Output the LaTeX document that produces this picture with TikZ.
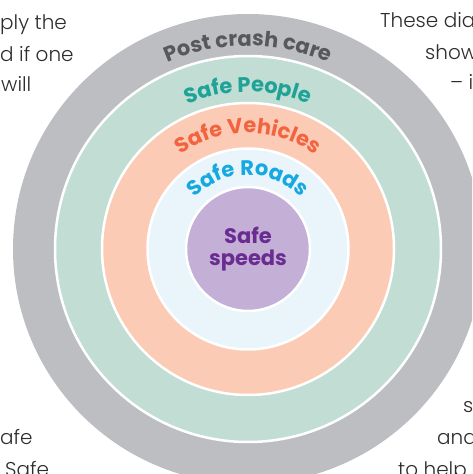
\documentclass[tikz,border=0pt]{standalone}
\usepackage{fontspec}
\newfontfamily\ringfont{Poppins Bold}
\newfontfamily\bodyfont{Poppins Light}
\usetikzlibrary{decorations.text}

\definecolor{ringgrey}{HTML}{BDBEC1}
\definecolor{ringgreen}{HTML}{C2DDD4}
\definecolor{ringpeach}{HTML}{FCCBB5}
\definecolor{ringblue}{HTML}{E9F5FB}
\definecolor{ringpurple}{HTML}{C4AFD6}
\definecolor{postgrey}{HTML}{58585A}
\definecolor{peopleteal}{HTML}{1FA397}
\definecolor{vehiclered}{HTML}{F26440}
\definecolor{roadsblue}{HTML}{16A9E1}
\definecolor{speedpurple}{HTML}{6B2C91}
\definecolor{bodygrey}{HTML}{2E2C2D}

\tikzset{
  ring/.style={draw=white, line width=2.5pt},
  ringlabel/.style 2 args={decorate, decoration={text along path, text align=center,
      text={|\ringfont\fontsize{21pt}{25pt}\selectfont\color{#1}|#2}}},
  bodytext/.style={font=\bodyfont\fontsize{20pt}{24pt}\selectfont, text=bodygrey, inner sep=0pt},
  centrelabel/.style={font=\ringfont\fontsize{21pt}{25pt}\selectfont, text=speedpurple, align=center},
}

\begin{document}
\begin{tikzpicture}[x=1pt, y=1pt]
    \useasboundingbox (0,0) rectangle (472,474);
    \clip (0,0) rectangle (472,474);
    \coordinate (ctr) at (248,225);

    % text of the page round the circle
    \node[bodytext, anchor=base west] (tl1) at (0,444) {ply the};
    \node[bodytext, anchor=base west] (tl2) at (0,412) {d if one};
    \node[bodytext, anchor=base west] (tl3) at (1,382) {will};
    \node[bodytext, anchor=base west] (tr1) at (380,446) {These dia};
    \node[bodytext, anchor=base west] (tr2) at (425,414) {show};
    \node[bodytext, anchor=base west] (tr3) at (450,384) {– i};
    \node[bodytext, anchor=base west] (bl1) at (0,29) {afe};
    \node[bodytext, anchor=base west] (bl2) at (5,-2) {Safe};
    \node[bodytext, anchor=base west] (br1) at (463,61) {s};
    \node[bodytext, anchor=base west] (br2) at (437,29) {and};
    \node[bodytext, anchor=base west] (br3) at (398,-2) {to help};

    % rings
    \fill[ringgrey] (ctr) circle[radius=235pt];
    \foreach \r/\c in {193/ringgreen, 146/ringpeach, 100.5/ringblue, 62/ringpurple}
        \filldraw[ring, fill=\c] (ctr) circle[radius=\r pt];

    % labels along the rings
    \path[ringlabel={postgrey}{Post crash care}] (ctr) ++(180:203pt) arc[start angle=180, end angle=0, radius=203pt];
    \path[ringlabel={peopleteal}{Safe People}] (ctr) ++(180:157pt) arc[start angle=180, end angle=0, radius=157pt];
    \path[ringlabel={vehiclered}{Safe Vehicles}] (ctr) ++(180:116pt) arc[start angle=180, end angle=0, radius=116pt];
    \path[ringlabel={roadsblue}{Safe Roads}] (ctr) ++(180:74pt) arc[start angle=180, end angle=0, radius=74pt];

    \node[centrelabel] (speeds) at (ctr) {Safe\\[-3pt]speeds};
\end{tikzpicture}
\end{document}
